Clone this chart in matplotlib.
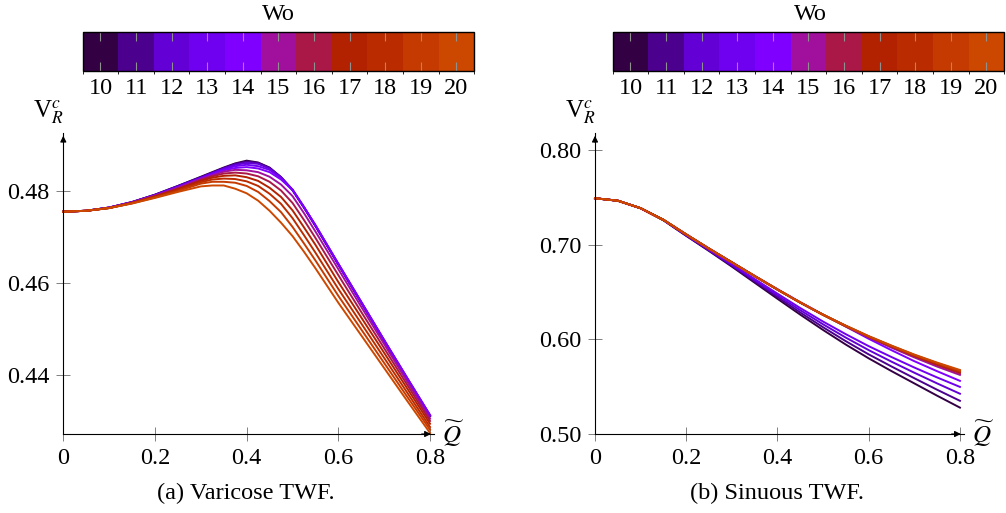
import matplotlib
matplotlib.use("Agg")
import matplotlib.pyplot as plt
from matplotlib.colors import ListedColormap, BoundaryNorm
from matplotlib.cm import ScalarMappable

plt.rcParams['font.family'] = 'serif'
plt.rcParams['font.serif'] = ['Liberation Serif', 'DejaVu Serif']
plt.rcParams['mathtext.fontset'] = 'stix'

# Womersley numbers and their colours
wo_values = [10, 11, 12, 13, 14, 15, 16, 17, 18, 19, 20]
wo_colors = ['#330044', '#4b008e', '#6200d6', '#7000f0', '#8000ff', '#a0109c',
             '#aa1848', '#b22200', '#ba2c00', '#c43a00', '#cc4800']

# (a) varicose TWF
q_var = [0, 0.05, 0.1, 0.15, 0.2, 0.25, 0.3, 0.325, 0.35, 0.375, 0.4,
         0.425, 0.45, 0.475, 0.5, 0.525, 0.55, 0.6, 0.65, 0.7, 0.75, 0.8]
var_wo10 = [.4755, .4757, .4764, .4776, .4792, .4811, .4831, .4841, .4851, .4860, .4866,
            .4862, .4851, .4830, .4802, .4764, .4724, .4640, .4557, .4474, .4392, .4310]
var_wo11 = [.4755, .4757, .4764, .4776, .4792, .4811, .4830, .4840, .4850, .4859, .4864,
            .4861, .4850, .4830, .4802, .4764, .4724, .4640, .4557, .4474, .4392, .4311]
var_wo12 = [.4755, .4757, .4764, .4776, .4791, .4810, .4829, .4839, .4849, .4857, .4861,
            .4859, .4849, .4830, .4803, .4765, .4725, .4641, .4558, .4475, .4393, .4312]
var_wo13 = [.4755, .4757, .4764, .4775, .4791, .4809, .4828, .4838, .4847, .4854, .4857,
            .4854, .4846, .4828, .4803, .4765, .4725, .4641, .4558, .4475, .4393, .4312]
var_wo14 = [.4755, .4757, .4764, .4775, .4790, .4808, .4827, .4836, .4845, .4850, .4852,
            .4849, .4841, .4825, .4802, .4765, .4726, .4642, .4559, .4476, .4394, .4313]
var_wo15 = [.4755, .4757, .4763, .4775, .4790, .4807, .4826, .4834, .4842, .4846, .4845,
            .4841, .4831, .4814, .4789, .4752, .4712, .4630, .4548, .4467, .4386, .4305]
var_wo16 = [.4755, .4757, .4763, .4774, .4789, .4805, .4824, .4832, .4838, .4840, .4838,
            .4832, .4820, .4801, .4774, .4737, .4698, .4617, .4537, .4458, .4379, .4300]
var_wo17 = [.4755, .4757, .4763, .4774, .4788, .4804, .4822, .4829, .4833, .4834, .4830,
            .4822, .4807, .4787, .4758, .4721, .4683, .4602, .4525, .4448, .4371, .4294]
var_wo18 = [.4755, .4757, .4763, .4774, .4787, .4802, .4819, .4825, .4827, .4826, .4821,
            .4811, .4794, .4772, .4741, .4704, .4666, .4587, .4512, .4437, .4362, .4287]
var_wo19 = [.4755, .4757, .4763, .4773, .4786, .4800, .4816, .4820, .4820, .4818, .4811,
            .4798, .4778, .4754, .4722, .4686, .4649, .4572, .4499, .4426, .4353, .4281]
var_wo20 = [.4755, .4757, .4763, .4773, .4785, .4798, .4810, .4812, .4812, .4805, .4795,
            .4779, .4757, .4731, .4702, .4668, .4632, .4557, .4486, .4415, .4344, .4274]

# (b) sinuous TWF
q_sin = [0, 0.05, 0.1, 0.15, 0.2, 0.25, 0.3, 0.35, 0.4,
         0.45, 0.5, 0.55, 0.6, 0.65, 0.7, 0.75, 0.8]
sin_wo10 = [.7493, .7467, .7387, .7260, .7095, .6935, .6770, .6600, .6430,
            .6262, .6100, .5945, .5800, .5665, .5535, .5405, .5279]
sin_wo11 = [.7493, .7467, .7387, .7261, .7098, .6940, .6778, .6613, .6448,
            .6285, .6129, .5981, .5842, .5714, .5590, .5468, .5351]
sin_wo12 = [.7493, .7467, .7387, .7262, .7101, .6944, .6787, .6626, .6466,
            .6309, .6160, .6019, .5887, .5765, .5648, .5535, .5426]
sin_wo13 = [.7493, .7467, .7387, .7263, .7103, .6949, .6795, .6639, .6484,
            .6332, .6189, .6055, .5929, .5814, .5703, .5598, .5498]
sin_wo14 = [.7493, .7467, .7388, .7265, .7111, .6961, .6816, .6672, .6531,
            .6394, .6262, .6135, .6007, .5886, .5770, .5664, .5562]
sin_wo15 = [.7493, .7467, .7388, .7265, .7109, .6959, .6814, .6668, .6526,
            .6388, .6259, .6137, .6021, .5913, .5810, .5713, .5625]
sin_wo16 = [.7493, .7467, .7388, .7265, .7110, .6960, .6814, .6669, .6527,
            .6389, .6260, .6140, .6027, .5922, .5822, .5729, .5641]
sin_wo17 = [.7493, .7467, .7388, .7265, .7110, .6960, .6815, .6669, .6527,
            .6389, .6261, .6142, .6029, .5926, .5826, .5738, .5653]
sin_wo18 = [.7493, .7467, .7388, .7265, .7110, .6960, .6815, .6670, .6528,
            .6390, .6261, .6143, .6031, .5930, .5832, .5745, .5661]
sin_wo19 = [.7493, .7467, .7388, .7265, .7110, .6960, .6815, .6670, .6528,
            .6390, .6262, .6144, .6033, .5932, .5837, .5750, .5669]
sin_wo20 = [.7493, .7467, .7388, .7265, .7110, .6960, .6815, .6670, .6528,
            .6390, .6262, .6145, .6035, .5935, .5840, .5755, .5677]

var_series = [var_wo10, var_wo11, var_wo12, var_wo13, var_wo14, var_wo15,
              var_wo16, var_wo17, var_wo18, var_wo19, var_wo20]
sin_series = [sin_wo10, sin_wo11, sin_wo12, sin_wo13, sin_wo14, sin_wo15,
              sin_wo16, sin_wo17, sin_wo18, sin_wo19, sin_wo20]

W, H = 1006, 513
fig = plt.figure(figsize=(W / 100, H / 100), dpi=100)


def px(x0, y_top, w, h):
    # pixel box (left, top, width, height) -> figure fraction
    return [x0 / W, 1 - (y_top + h) / H, w / W, h / H]


def setup_axis(ax, ylim, yticks, ylabels):
    ax.set_xlim(0, 0.808)
    ax.set_ylim(*ylim)
    ax.spines['top'].set_visible(False)
    ax.spines['right'].set_visible(False)
    for s in ('left', 'bottom'):
        ax.spines[s].set_linewidth(0.8)
    ax.set_xticks([0, 0.2, 0.4, 0.6, 0.8])
    ax.set_xticklabels(['0', '0.2', '0.4', '0.6', '0.8'])
    ax.set_yticks(yticks)
    ax.set_yticklabels(ylabels)
    ax.tick_params(direction='inout', length=10, width=0.7, color='#808080',
                   labelsize=17.5, labelcolor='black')
    ax.tick_params(axis='x', pad=5)
    ax.tick_params(axis='y', pad=5)
    ax.patch.set_visible(False)
    # axis arrows
    ax.annotate('', xy=(1.0, 0), xytext=(0.96, 0), xycoords='axes fraction',
                arrowprops=dict(arrowstyle='-|>', color='k', lw=0.8, mutation_scale=9))
    ax.annotate('', xy=(0, 1.0), xytext=(0, 0.96), xycoords='axes fraction',
                arrowprops=dict(arrowstyle='-|>', color='k', lw=0.8, mutation_scale=9))


ax1 = fig.add_axes(px(63.3, 133, 370.4, 301))
for vals, c in zip(var_series, wo_colors):
    ax1.plot(q_var, vals, color=c, lw=1.4, clip_on=False)
setup_axis(ax1, (0.42717, 0.49261), [0.44, 0.46, 0.48], ['0.44', '0.46', '0.48'])

ax2 = fig.add_axes(px(595, 133, 368.6, 301))
for vals, c in zip(sin_series, wo_colors):
    ax2.plot(q_sin, vals, color=c, lw=1.4, clip_on=False)
setup_axis(ax2, (0.50, 0.8183), [0.5, 0.6, 0.7, 0.8], ['0.50', '0.60', '0.70', '0.80'])

# axis labels and captions
for xl, xq, xc, cap in [(48, 453, 246, '(a) Varicose TWF.'), (580, 983, 777, '(b) Sinuous TWF.')]:
    fig.text(xl / W, 1 - 112 / H, 'V$^{c}_{R}$', ha='center', va='center', fontsize=18)
    fig.text(xq / W, 1 - 434 / H, r'$\widetilde{Q}$', ha='center', va='center', fontsize=18)
    fig.text(xc / W, 1 - 493 / H, cap, ha='center', va='center', fontsize=17.5)

# discrete colour bars
bounds = [v - 0.5 for v in wo_values] + [wo_values[-1] + 0.5]
cmap = ListedColormap(wo_colors)
norm = BoundaryNorm(bounds, cmap.N)
for x0, xt in [(82.7, 278), (612.7, 810)]:
    cax = fig.add_axes(px(x0, 31.7, 391.5, 39))
    cb = fig.colorbar(ScalarMappable(norm=norm, cmap=cmap), cax=cax,
                      orientation='horizontal', ticks=wo_values)
    cb.outline.set_linewidth(1.0)
    cax.tick_params(direction='in', top=True, bottom=True, length=6.5, width=0.8,
                    color='#909090', labelsize=17.5, pad=5)
    cax.set_xticklabels([str(v) for v in wo_values])
    fig.text(xt / W, 1 - 14 / H, 'Wo', ha='center', va='center', fontsize=17.5)

fig.savefig('out.png', dpi=100)
